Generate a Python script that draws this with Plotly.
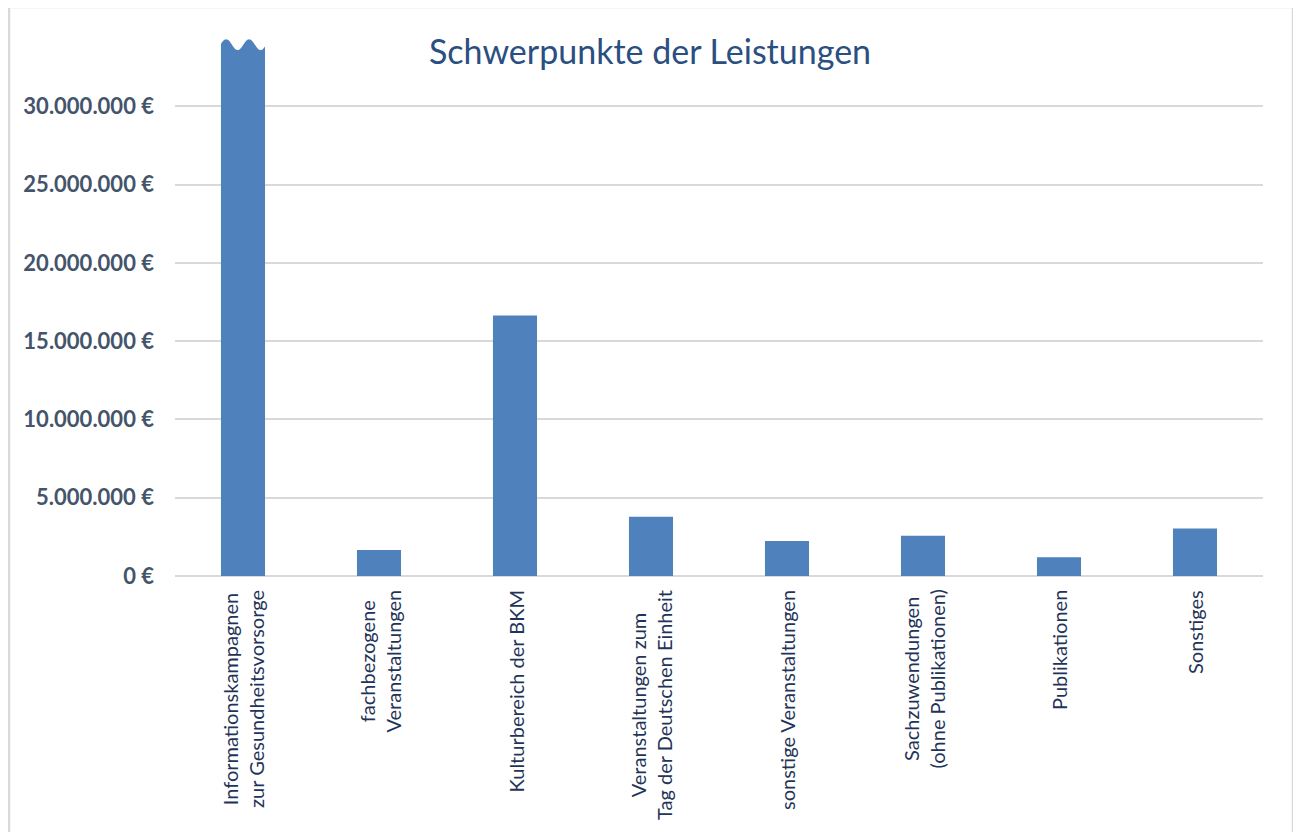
import numpy as np
import plotly.graph_objects as go

# ---- data ----
categories = [
    "Informationskampagnen<br>zur Gesundheitsvorsorge",
    "fachbezogene<br>Veranstaltungen",
    "Kulturbereich der BKM",
    "Veranstaltungen zum<br>Tag der Deutschen Einheit",
    "sonstige Veranstaltungen",
    "Sachzuwendungen<br>(ohne Publikationen)",
    "Publikationen",
    "Sonstiges",
]
# first bar is drawn broken (axis cut) in the original
values = [34_300_000, 1_660_000, 16_640_000, 3_790_000, 2_230_000, 2_570_000, 1_190_000, 3_040_000]
tick_vals = [0, 5_000_000, 10_000_000, 15_000_000, 20_000_000, 25_000_000, 30_000_000]
tick_text = ["0 €", "5.000.000 €", "10.000.000 €", "15.000.000 €", "20.000.000 €", "25.000.000 €", "30.000.000 €"]
title_text = "Schwerpunkte der Leistungen"

# ---- layout constants (page body has an 8px margin) ----
OFF = 8
W, H = 1301 - OFF, 832 - OFF
ML, MR, MT, MB = 175 - OFF, 38, 36 - OFF, 256
Y_MAX = 34_500_000
BARGAP = 0.676
BAR_COLOR = "#4F81BD"
GRID = "#D9D9D9"
FONT = "Lato"

fig = go.Figure(go.Bar(
    x=categories, y=values,
    marker=dict(color=BAR_COLOR, line=dict(width=0)),
    hoverinfo="x+y",
))

# wavy "break" on top of the first (cut) bar, computed from the bar geometry
bw = 1 - BARGAP
x0, x1 = -bw / 2, bw / 2
amp = 11 / ((H - MT - MB) / Y_MAX)  # ~11 px in data units
ts = np.linspace(0, 1, 60)
xs = x0 - 0.01 + (x1 - x0 + 0.02) * ts
ys = values[0] - amp / 2 * (1 - np.cos(2 * np.pi * (ts - 0.14) / 0.49))
path = f"M {xs[0]} {Y_MAX * 1.2} " + " ".join(f"L {x} {y}" for x, y in zip(xs, ys)) + f" L {xs[-1]} {Y_MAX * 1.2} Z"
fig.add_shape(type="path", path=path, xref="x", yref="y",
              fillcolor="white", line=dict(width=0), layer="above")

# outer frame
pw, ph = W - ML - MR, H - MT - MB
fx0 = (8 - OFF + 1 - ML) / pw
fx1 = (1293 - OFF - ML) / pw
fy1 = (H - MB - (6 - OFF + 1)) / ph
fy0 = (H - MB - 900) / ph
fig.add_shape(type="rect", xref="paper", yref="paper", x0=fx0, x1=fx1, y0=fy0, y1=fy1,
              line=dict(color=GRID, width=2.5), fillcolor="rgba(0,0,0,0)", layer="below")

# category labels: rotated, lines centred on each other
for cat in categories:
    fig.add_annotation(
        x=cat, y=0, xref="x", yref="y", yanchor="top", xanchor="center",
        text=cat, textangle=-90, align="center", showarrow=False, yshift=-12,
        font=dict(family=FONT, size=20, color="#1F3458"),
    )

fig.update_layout(
    width=W, height=H,
    margin=dict(l=ML, r=MR, t=MT, b=MB),
    paper_bgcolor="white", plot_bgcolor="white",
    bargap=BARGAP,
    showlegend=False,
    title=dict(text=title_text, x=(650 - OFF) / W, xref="container", xanchor="center",
               y=1 - (52 - OFF) / H, yref="container", yanchor="middle",
               font=dict(family=FONT, size=34, color="#2A4F80")),
    font=dict(family=FONT),
)
fig.update_xaxes(showticklabels=False, showgrid=False, showline=False, ticks="")
fig.update_yaxes(
    range=[0, Y_MAX], tickvals=tick_vals, ticktext=tick_text,
    tickfont=dict(family=FONT, size=22, color="#44546A", weight="bold"),
    showgrid=True, gridcolor=GRID, gridwidth=2,
    zeroline=True, zerolinecolor=GRID, zerolinewidth=2,
    showline=False, ticks="", ticklabelstandoff=20,
)

fig.write_html("out.html")
